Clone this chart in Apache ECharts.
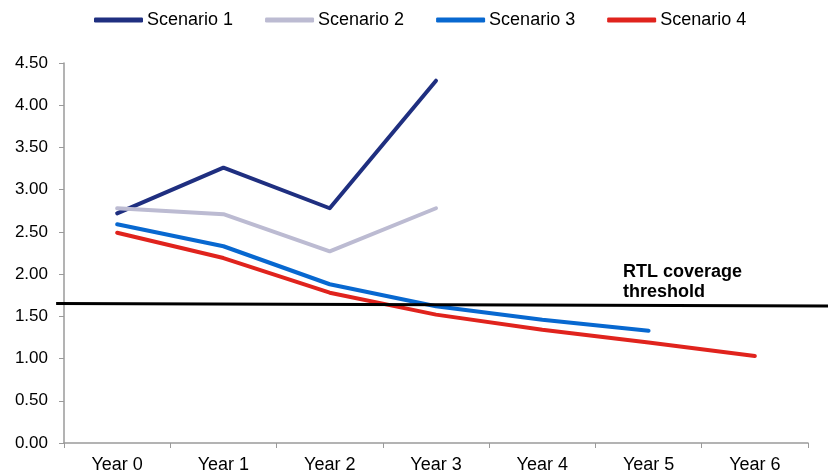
<!DOCTYPE html>
<html>
<head>
<meta charset="utf-8">
<script src="https://cdn.jsdelivr.net/npm/echarts@6/dist/echarts.min.js"></script>
<style>
  html, body { margin: 0; padding: 0; background: #ffffff; }
  #chart { width: 828px; height: 474px; }
</style>
</head>
<body>
<div id="chart"></div>
<script>
// Coverage ratio projections by scenario
const years = ['Year 0', 'Year 1', 'Year 2', 'Year 3', 'Year 4', 'Year 5', 'Year 6'];
const scenario1 = [2.72, 3.26, 2.78, 4.29];
const scenario2 = [2.78, 2.71, 2.27, 2.78];
const scenario3 = [2.59, 2.33, 1.88, 1.62, 1.46, 1.33];
const scenario4 = [2.49, 2.19, 1.78, 1.52, 1.34, 1.19, 1.03];
const seriesNames = ['Scenario 1', 'Scenario 2', 'Scenario 3', 'Scenario 4'];
const seriesColors = ['#1f2f80', '#bcbbd2', '#0868d0', '#e0231d'];
const yTicks = [0, 0.5, 1, 1.5, 2, 2.5, 3, 3.5, 4, 4.5];

// RTL coverage threshold, spanning past both ends of the year axis
// (x in year units: 0 = Year 0, 6 = Year 6)
const thresholdX = [-0.574, 6.69];
const thresholdY = [1.66, 1.63];
const thresholdLabel = 'RTL coverage\nthreshold';

const chart = echarts.init(document.getElementById('chart'), null, { renderer: 'canvas' });

const font = '"Liberation Sans", Arial, sans-serif';

const lineSeries = [scenario1, scenario2, scenario3, scenario4].map((values, i) => ({
  name: seriesNames[i],
  type: 'line',
  data: values,
  symbol: 'none',
  smooth: false,
  color: seriesColors[i],
  lineStyle: { width: 4, color: seriesColors[i], cap: 'round', join: 'round' },
  z: 3
}));

// main plot: left 64, right 20 => 744px for 7 categories (106.3px each)
const plotLeft = 64, plotRight = 20, plotTop = 63, plotBottom = 30;
const catWidth = (828 - plotLeft - plotRight) / years.length;
// overlay grid in year units, wide enough to hold the threshold span
const overlayLeft = plotLeft + catWidth * (0.5 + thresholdX[0]);
const overlayRight = 828 - (plotLeft + catWidth * (0.5 + thresholdX[1]));

const option = {
  backgroundColor: '#ffffff',
  animation: false,
  textStyle: { fontFamily: font },
  legend: {
    data: seriesNames,
    top: 6,
    left: 89,
    itemWidth: 49,
    itemHeight: 5,
    itemGap: 32,
    icon: 'roundRect',
    textStyle: { fontFamily: font, fontSize: 18, color: '#000000', padding: [0, 0, 0, -1] }
  },
  grid: [
    { left: plotLeft, right: plotRight, top: plotTop, bottom: plotBottom, containLabel: false },
    { left: overlayLeft, right: overlayRight, top: plotTop, bottom: plotBottom, containLabel: false }
  ],
  xAxis: [
    {
      type: 'category',
      gridIndex: 0,
      data: years,
      boundaryGap: true,
      axisLine: { lineStyle: { color: '#9a9a9a', width: 1.5 } },
      axisTick: { show: true, length: 5, lineStyle: { color: '#9a9a9a' } },
      axisLabel: { fontFamily: font, fontSize: 18, color: '#000000', margin: 13 },
      splitLine: { show: false }
    },
    {
      type: 'value',
      gridIndex: 1,
      min: thresholdX[0],
      max: thresholdX[1],
      show: false
    }
  ],
  yAxis: [
    {
      type: 'value',
      gridIndex: 0,
      min: yTicks[0],
      max: yTicks[yTicks.length - 1],
      interval: 0.5,
      axisLine: { show: true, onZero: false, lineStyle: { color: '#9a9a9a', width: 1.5 } },
      axisTick: { show: true, length: 5, lineStyle: { color: '#9a9a9a' } },
      axisLabel: {
        fontFamily: font, fontSize: 17, color: '#000000', margin: 16,
        formatter: v => v.toFixed(2)
      },
      splitLine: { show: false }
    },
    {
      type: 'value',
      gridIndex: 1,
      min: yTicks[0],
      max: yTicks[yTicks.length - 1],
      show: false
    }
  ],
  series: lineSeries.concat([
    {
      name: 'threshold',
      type: 'line',
      xAxisIndex: 1,
      yAxisIndex: 1,
      data: thresholdX.map((x, i) => [x, thresholdY[i]]),
      symbol: 'none',
      silent: true,
      lineStyle: { color: '#000000', width: 3 },
      z: 4
    }
  ]),
  graphic: [
    {
      type: 'text',
      left: 623,
      top: 262,
      style: {
        text: thresholdLabel,
        fontFamily: font,
        fontSize: 18,
        fontWeight: 'bold',
        fill: '#000000',
        lineHeight: 20
      }
    }
  ]
};

chart.setOption(option);
</script>
</body>
</html>
